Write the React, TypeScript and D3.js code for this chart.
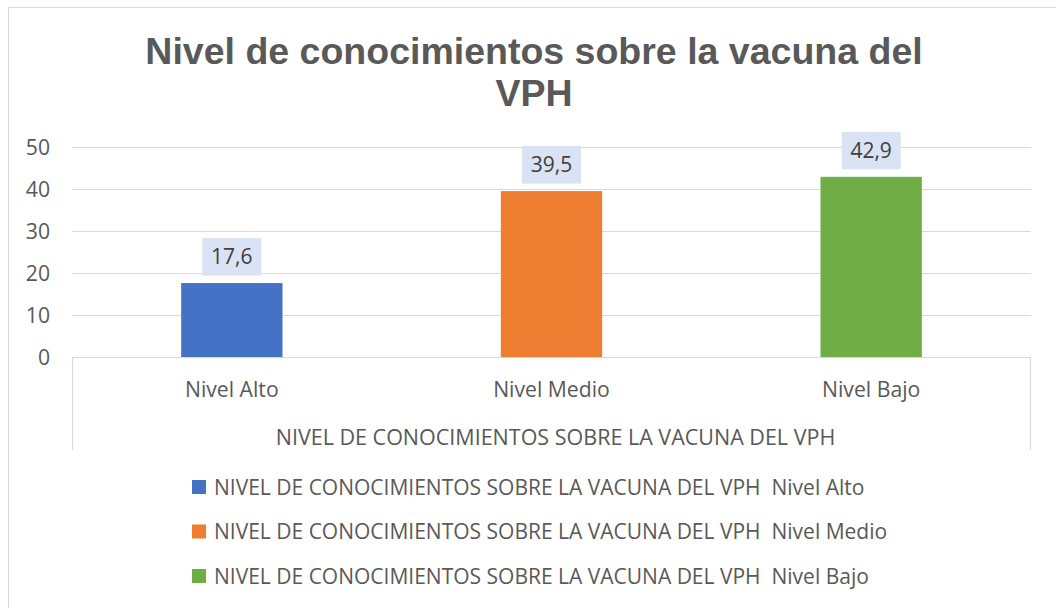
import React from 'react';
import * as d3 from 'd3';

const categories = ['Nivel Alto', 'Nivel Medio', 'Nivel Bajo'];
const values = [17.6, 39.5, 42.9];
const colors = ['#4472c4', '#ed7d31', '#70ad47'];
const yTicks = [0, 10, 20, 30, 40, 50];
const groupLabel = 'NIVEL DE CONOCIMIENTOS SOBRE LA VACUNA DEL VPH';
const titleLines = ['Nivel de conocimientos sobre la vacuna del', 'VPH'];

const W = 1056;
const H = 608;
const plot = { left: 72, right: 1031, top: 147, bottom: 357 };
const font = "'Open Sans', sans-serif";
const axisSize = 21.2;

const fmt = (v: number) => v.toFixed(1).replace('.', ',');

const App: React.FC = () => {
  const x = d3
    .scaleBand<string>()
    .domain(categories)
    .range([plot.left, plot.right])
    .paddingInner(0.683)
    .paddingOuter(0.683 / 2);

  const y = d3.scaleLinear().domain([0, 50]).range([plot.bottom, plot.top]);

  const boxW = 59;
  const boxH = 37.5;

  return (
    <svg
      width={W}
      height={H}
      style={{ position: 'absolute', left: 0, top: 0, background: '#fff' }}
    >
      {/* chart border, runs off the right and bottom */}
      <rect x={8.5} y={7.5} width={W} height={H} fill="#fff" stroke="#d9d9d9" strokeWidth={1} />

      {/* title */}
      {titleLines.map((t, i) => (
        <text
          key={t}
          x={534}
          y={64 + i * 42}
          textAnchor="middle"
          fontFamily="'Liberation Sans', Arial, sans-serif"
          fontWeight="bold"
          fontSize={37.5}
          fill="#595959"
        >
          {t}
        </text>
      ))}

      {/* gridlines + y labels */}
      {yTicks.map((t) => (
        <g key={t}>
          <line
            x1={plot.left}
            x2={plot.right}
            y1={Math.round(y(t)) + 0.5}
            y2={Math.round(y(t)) + 0.5}
            stroke="#d9d9d9"
            strokeWidth={1.2}
          />
          <text
            x={50}
            y={y(t)}
            dy="0.36em"
            textAnchor="end"
            fontFamily={font}
            fontSize={axisSize}
            fill="#595959"
          >
            {t}
          </text>
        </g>
      ))}

      {/* category axis frame */}
      <line x1={plot.left + 0.5} x2={plot.left + 0.5} y1={plot.bottom} y2={450} stroke="#d9d9d9" strokeWidth={1.2} />
      <line x1={plot.right - 0.5} x2={plot.right - 0.5} y1={plot.bottom} y2={450} stroke="#d9d9d9" strokeWidth={1.2} />

      {/* bars */}
      {categories.map((c, i) => {
        const bx = x(c)!;
        const cx = bx + x.bandwidth() / 2;
        const top = y(values[i]);
        return (
          <g key={c}>
            <rect x={bx} y={top} width={x.bandwidth()} height={y(0) - top} fill={colors[i]} />
            <rect
              x={cx - boxW / 2}
              y={top - 7.5 - boxH}
              width={boxW}
              height={boxH}
              fill="#dae3f3"
            />
            <text
              x={cx}
              y={top - 7.5 - boxH / 2}
              dy="0.36em"
              textAnchor="middle"
              fontFamily={font}
              fontSize={21}
              fill="#404040"
            >
              {fmt(values[i])}
            </text>
            <text
              x={cx}
              y={389}
              dy="0.36em"
              textAnchor="middle"
              fontFamily={font}
              fontSize={axisSize}
              fill="#595959"
            >
              {c}
            </text>
          </g>
        );
      })}

      <text
        x={(plot.left + plot.right) / 2 + 4}
        y={437}
        dy="0.36em"
        textAnchor="middle"
        fontFamily={font}
        fontSize={axisSize + 0.3}
        fill="#595959"
      >
        {groupLabel}
      </text>

      {/* legend */}
      {categories.map((c, i) => {
        const ly = 487 + i * 44.5;
        return (
          <g key={'lg' + c}>
            <rect x={192} y={ly - 7} width={14} height={14} fill={colors[i]} />
            <text
              x={214}
              y={ly}
              dy="0.36em"
              fontFamily={font}
              fontSize={21}
              fill="#595959"
              style={{ whiteSpace: 'pre' }}
            >
              {`${groupLabel}  ${c}`}
            </text>
          </g>
        );
      })}
    </svg>
  );
};

export default App;
